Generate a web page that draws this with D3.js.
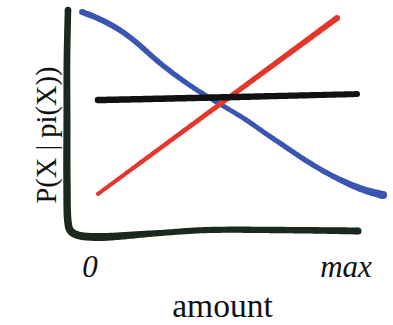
<!DOCTYPE html>
<html>
<head>
<meta charset="utf-8">
<script src="https://cdn.jsdelivr.net/npm/d3@7"></script>
<style>
  html, body { margin: 0; padding: 0; background: #fff; }
  svg { display: block; }
</style>
</head>
<body>
<svg id="chart" width="393" height="325"></svg>
<script>
// ---- data (x: 0 = "0", 1 = "max"; y: probability scale 0..1) ----
const xTicks = [0, 1];
const xTickLabels = ["0", "max"];
const xTitle = "amount";
const yTitle = "P(X | pi(X))";

const blueX = [-0.031, 0.020, 0.070, 0.137, 0.203, 0.266, 0.332, 0.398, 0.461, 0.527, 0.613, 0.676, 0.742, 0.809, 0.871, 0.938, 1.004, 1.066, 1.145];
const blueY = [0.991, 0.969, 0.942, 0.897, 0.834, 0.767, 0.709, 0.655, 0.610, 0.565, 0.507, 0.453, 0.404, 0.350, 0.305, 0.260, 0.224, 0.193, 0.170];

const redX = [0.031, 0.965];
const redY = [0.175, 0.964];

const blackX = [0.031, 0.500, 1.043];
const blackY = [0.596, 0.608, 0.623];

// hand-drawn axes frame
const frameX = [-0.086, -0.090, -0.090, -0.090, -0.086, -0.078, -0.055, 0.020, 0.250, 0.450, 0.770, 1.047];
const frameY = [1.000, 0.776, 0.507, 0.238, 0.049, 0.013, -0.007, -0.018, -0.002, 0.013, 0.013, 0.009];

// ---- styles ----
const series = [
  { x: frameX, y: frameY, color: "#1b281d", curve: d3.curveCatmullRom.alpha(0.5), widths: [[0, 6.5], [0.4, 7.5], [0.5, 8], [0.62, 6], [0.9, 6.5], [1, 7]] },
  { x: blueX, y: blueY, color: "#3b55b2", curve: d3.curveBasis, widths: [[0, 6], [0.5, 4.8], [0.85, 5.5], [1, 8]] },
  { x: redX, y: redY, color: "#e2372a", curve: d3.curveLinear, widths: [[0, 4], [1, 6]] },
  { x: blackX, y: blackY, color: "#111111", curve: d3.curveCatmullRom.alpha(0.5), widths: [[0, 6.5], [0.5, 6.5], [1, 6]] }
];

const svg = d3.select("#chart");
const x = d3.scaleLinear().domain([0, 1]).range([90, 346]);
const y = d3.scaleLinear().domain([0, 1]).range([233, 10]);

function widthAt(stops, t) {
  for (let i = 1; i < stops.length; i++) {
    if (t <= stops[i][0]) {
      const a = stops[i - 1], b = stops[i];
      const f = (t - a[0]) / (b[0] - a[0] || 1);
      return a[1] + f * (b[1] - a[1]);
    }
  }
  return stops[stops.length - 1][1];
}

function drawStroke(s) {
  const pts = s.x.map((v, i) => [x(v), y(s.y[i])]);
  const line = d3.line().curve(s.curve);
  const tmp = svg.append("path").attr("d", line(pts)).attr("fill", "none");
  const node = tmp.node();
  const L = node.getTotalLength();
  const N = Math.max(20, Math.round(L / 2));
  const samp = d3.range(N + 1).map(i => {
    const p = node.getPointAtLength(L * i / N);
    return [p.x, p.y];
  });
  tmp.remove();
  const left = [], right = [];
  samp.forEach((p, i) => {
    const a = samp[Math.max(0, i - 1)], b = samp[Math.min(N, i + 1)];
    let dx = b[0] - a[0], dy = b[1] - a[1];
    const len = Math.hypot(dx, dy) || 1;
    dx /= len; dy /= len;
    const w = widthAt(s.widths, i / N) / 2;
    left.push([p[0] - dy * w, p[1] + dx * w]);
    right.push([p[0] + dy * w, p[1] - dx * w]);
  });
  const poly = left.concat(right.reverse());
  const g = svg.append("g").attr("fill", s.color);
  g.append("path").attr("d", d3.line().curve(d3.curveLinearClosed)(poly));
  g.append("circle").attr("cx", samp[0][0]).attr("cy", samp[0][1]).attr("r", widthAt(s.widths, 0) / 2);
  g.append("circle").attr("cx", samp[N][0]).attr("cy", samp[N][1]).attr("r", widthAt(s.widths, 1) / 2);
}

series.forEach(drawStroke);

const FONT = "'Liberation Serif', 'Times New Roman', serif";

// tick labels
svg.append("g").selectAll("text").data(xTicks).join("text")
  .attr("x", d => x(d))
  .attr("y", 277)
  .attr("text-anchor", "middle")
  .attr("font-family", FONT)
  .attr("font-style", "italic")
  .attr("font-size", 31)
  .attr("fill", "#111")
  .text((d, i) => xTickLabels[i]);

// axis titles
svg.append("text")
  .attr("x", 222.5)
  .attr("y", 317)
  .attr("text-anchor", "middle")
  .attr("font-family", FONT)
  .attr("font-size", 33.5)
  .attr("fill", "#111")
  .text(xTitle);

svg.append("text")
  .attr("transform", `translate(56,135) rotate(-90)`)
  .attr("text-anchor", "middle")
  .attr("font-family", FONT)
  .attr("font-size", 28.5)
  .attr("fill", "#111")
  .text(yTitle);
</script>
</body>
</html>
